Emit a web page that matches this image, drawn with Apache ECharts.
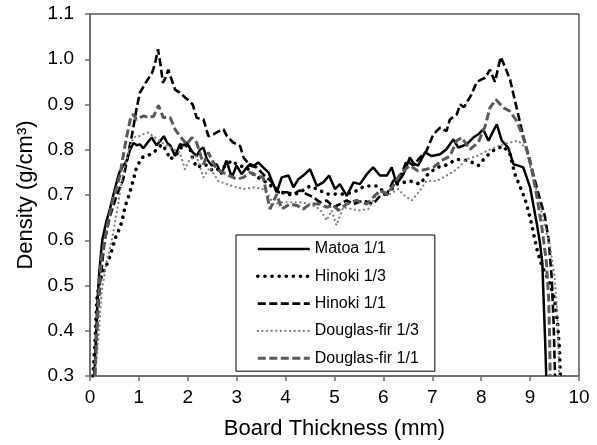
<!DOCTYPE html>
<html>
<head>
<meta charset="utf-8">
<script src="https://cdn.jsdelivr.net/npm/echarts@6/dist/echarts.min.js"></script>
<style>
  html, body { margin: 0; padding: 0; background: #fff; }
  #chart { width: 597px; height: 445px; }
</style>
</head>
<body>
<div id="chart"></div>
<script>
// density profiles, [thickness mm, density g/cm3]
const matoa11 = [
  [0.09,0.30],[0.12,0.38],[0.15,0.46],[0.19,0.53],[0.25,0.60],[0.33,0.64],[0.41,0.67],[0.5,0.71],
  [0.6,0.75],[0.68,0.765],[0.75,0.775],[0.82,0.80],[0.89,0.815],[0.96,0.81],[1.02,0.812],[1.09,0.803],
  [1.17,0.815],[1.26,0.827],[1.36,0.81],[1.44,0.82],[1.51,0.83],[1.58,0.815],[1.64,0.81],[1.74,0.786],
  [1.84,0.812],[1.91,0.81],[1.98,0.816],[2.08,0.797],[2.18,0.786],[2.25,0.80],[2.32,0.805],[2.39,0.779],
  [2.49,0.765],[2.59,0.768],[2.69,0.746],[2.79,0.776],[2.9,0.739],[3.0,0.765],[3.1,0.746],[3.2,0.76],
  [3.27,0.768],[3.36,0.765],[3.44,0.772],[3.54,0.761],[3.65,0.75],[3.72,0.731],[3.82,0.706],[3.92,0.739],
  [4.06,0.743],[4.16,0.717],[4.26,0.735],[4.36,0.743],[4.5,0.757],[4.64,0.72],[4.77,0.728],[4.89,0.743],
  [5.01,0.713],[5.11,0.724],[5.25,0.698],[5.39,0.728],[5.52,0.724],[5.66,0.746],[5.79,0.761],[5.93,0.743],
  [6.07,0.743],[6.17,0.761],[6.27,0.724],[6.41,0.746],[6.54,0.783],[6.62,0.77],[6.71,0.765],[6.85,0.794],
  [6.99,0.786],[7.16,0.79],[7.29,0.801],[7.43,0.823],[7.53,0.805],[7.7,0.812],[7.84,0.827],[7.95,0.835],
  [8.04,0.845],[8.15,0.82],[8.24,0.84],[8.32,0.856],[8.42,0.82],[8.55,0.805],[8.66,0.768],[8.76,0.765],
  [8.86,0.761],[9.0,0.717],[9.08,0.67],[9.14,0.635],[9.2,0.595],[9.25,0.55],[9.28,0.46],[9.31,0.37],[9.33,0.30]
];

const hinoki13 = [
  [0.06,0.30],[0.1,0.37],[0.14,0.47],[0.2,0.51],[0.27,0.53],[0.34,0.545],[0.41,0.566],[0.47,0.586],
  [0.51,0.603],[0.58,0.62],[0.65,0.64],[0.72,0.675],[0.8,0.70],[0.89,0.735],[0.95,0.76],[1.06,0.783],
  [1.19,0.787],[1.33,0.797],[1.47,0.812],[1.55,0.80],[1.64,0.779],[1.77,0.79],[1.91,0.812],[2.04,0.805],
  [2.1,0.78],[2.18,0.761],[2.35,0.768],[2.52,0.753],[2.73,0.761],[2.9,0.776],[3.03,0.765],[3.2,0.761],
  [3.37,0.743],[3.5,0.735],[3.61,0.728],[3.82,0.71],[4.02,0.702],[4.15,0.70],[4.29,0.706],[4.5,0.72],
  [4.7,0.71],[4.84,0.702],[5.01,0.702],[5.18,0.702],[5.39,0.706],[5.62,0.72],[5.86,0.72],[6.07,0.702],
  [6.27,0.724],[6.54,0.731],[6.75,0.724],[6.88,0.743],[7.09,0.761],[7.26,0.765],[7.5,0.779],[7.74,0.776],
  [7.94,0.765],[8.11,0.786],[8.28,0.801],[8.45,0.808],[8.59,0.79],[8.69,0.746],[8.79,0.72],[8.9,0.69],
  [9.0,0.65],[9.07,0.615],[9.14,0.58],[9.22,0.55],[9.32,0.525],[9.42,0.50],[9.5,0.47],[9.56,0.42],
  [9.6,0.36],[9.62,0.30]
];

const hinoki11 = [
  [0.1,0.30],[0.14,0.40],[0.2,0.50],[0.3,0.60],[0.41,0.654],[0.55,0.70],[0.68,0.735],[0.78,0.79],
  [0.88,0.845],[0.95,0.89],[1.02,0.926],[1.15,0.95],[1.27,0.97],[1.33,0.99],[1.39,1.022],[1.44,0.99],
  [1.49,0.948],[1.55,0.96],[1.6,0.977],[1.67,0.955],[1.74,0.933],[1.85,0.925],[1.95,0.915],[2.04,0.907],
  [2.1,0.90],[2.18,0.871],[2.25,0.868],[2.32,0.867],[2.42,0.83],[2.52,0.834],[2.62,0.84],[2.73,0.845],
  [2.8,0.83],[2.93,0.816],[3.07,0.808],[3.14,0.783],[3.27,0.765],[3.41,0.761],[3.54,0.746],[3.72,0.728],
  [3.85,0.706],[4.02,0.706],[4.16,0.702],[4.29,0.71],[4.43,0.702],[4.57,0.695],[4.7,0.684],[4.84,0.688],
  [4.98,0.673],[5.11,0.68],[5.25,0.688],[5.39,0.68],[5.59,0.688],[5.79,0.68],[5.93,0.698],[6.07,0.702],
  [6.2,0.731],[6.34,0.739],[6.48,0.776],[6.61,0.765],[6.75,0.783],[6.88,0.797],[7.02,0.834],[7.16,0.849],
  [7.29,0.841],[7.36,0.867],[7.5,0.878],[7.57,0.9],[7.65,0.894],[7.8,0.922],[7.91,0.95],[8.0,0.955],
  [8.08,0.959],[8.18,0.977],[8.28,0.95],[8.4,1.005],[8.5,0.98],[8.59,0.955],[8.73,0.89],[8.86,0.83],
  [9.0,0.772],[9.16,0.707],[9.3,0.654],[9.38,0.60],[9.44,0.52],[9.48,0.42],[9.51,0.30]
];

const douglas13 = [
  [0.1,0.30],[0.17,0.38],[0.24,0.487],[0.34,0.552],[0.44,0.597],[0.55,0.663],[0.68,0.75],[0.82,0.808],
  [0.89,0.827],[0.96,0.83],[1.02,0.83],[1.1,0.835],[1.19,0.838],[1.33,0.827],[1.47,0.816],[1.64,0.805],
  [1.84,0.794],[1.94,0.757],[2.04,0.779],[2.18,0.786],[2.32,0.739],[2.45,0.761],[2.62,0.731],[2.79,0.724],
  [3.0,0.717],[3.14,0.713],[3.34,0.717],[3.54,0.713],[3.65,0.70],[3.75,0.68],[3.92,0.684],[4.09,0.684],
  [4.29,0.684],[4.5,0.68],[4.7,0.669],[4.84,0.644],[4.94,0.666],[5.04,0.633],[5.18,0.673],[5.35,0.669],
  [5.52,0.666],[5.69,0.669],[5.86,0.702],[6.0,0.71],[6.13,0.702],[6.3,0.713],[6.44,0.698],[6.58,0.688],
  [6.75,0.71],[6.88,0.731],[7.09,0.731],[7.29,0.743],[7.5,0.757],[7.7,0.779],[7.91,0.786],[8.11,0.797],
  [8.28,0.805],[8.45,0.812],[8.59,0.816],[8.76,0.82],[8.9,0.805],[9.03,0.753],[9.13,0.71],[9.24,0.66],
  [9.33,0.62],[9.41,0.585],[9.5,0.52],[9.55,0.45],[9.58,0.37],[9.59,0.30]
];

const douglas11 = [
  [0.1,0.30],[0.16,0.45],[0.22,0.55],[0.35,0.63],[0.47,0.69],[0.61,0.742],[0.7,0.80],[0.78,0.845],
  [0.84,0.875],[0.89,0.878],[0.95,0.867],[1.02,0.871],[1.1,0.875],[1.19,0.871],[1.3,0.874],[1.4,0.898],
  [1.5,0.871],[1.64,0.871],[1.74,0.845],[1.84,0.83],[1.98,0.812],[2.08,0.827],[2.18,0.816],[2.32,0.768],
  [2.42,0.794],[2.59,0.757],[2.79,0.746],[3.0,0.735],[3.14,0.739],[3.27,0.75],[3.41,0.743],[3.54,0.739],
  [3.62,0.70],[3.68,0.669],[3.82,0.702],[3.92,0.669],[4.09,0.68],[4.23,0.677],[4.36,0.669],[4.5,0.68],
  [4.7,0.68],[4.84,0.673],[4.98,0.677],[5.08,0.666],[5.25,0.68],[5.45,0.688],[5.66,0.68],[5.79,0.695],
  [5.93,0.71],[6.07,0.702],[6.2,0.72],[6.34,0.746],[6.54,0.765],[6.71,0.753],[6.88,0.757],[7.02,0.761],
  [7.19,0.776],[7.36,0.786],[7.5,0.82],[7.6,0.827],[7.77,0.801],[7.94,0.816],[8.08,0.852],[8.18,0.893],
  [8.3,0.911],[8.45,0.893],[8.59,0.885],[8.73,0.863],[8.86,0.827],[9.0,0.776],[9.13,0.702],[9.24,0.629],
  [9.33,0.555],[9.38,0.47],[9.4,0.38],[9.41,0.30]
];

const seriesNames = ['Matoa 1/1', 'Hinoki 1/3', 'Hinoki 1/1', 'Douglas-fir 1/3', 'Douglas-fir 1/1'];
const seriesData = [matoa11, hinoki13, hinoki11, douglas13, douglas11];
const lineStyles = [
  { color: '#000', width: 2.5, type: 'solid' },
  { color: '#000', width: 3.6, type: [0.1, 7], cap: 'round' },
  { color: '#000', width: 2.6, type: [8, 3.5] },
  { color: '#7f7f7f', width: 2.2, type: [0.1, 4.5], cap: 'round' },
  { color: '#595959', width: 3, type: [8, 3.5] }
];

const FONT = 'Liberation Sans, Arial, sans-serif';
const AXIS_GREY = '#6b6b6b';

const chart = echarts.init(document.getElementById('chart'), null, { renderer: 'canvas' });

chart.setOption({
  animation: false,
  backgroundColor: '#fff',
  grid: {
    left: 90, right: 18, top: 14, bottom: 67,
    show: true, borderColor: '#000', borderWidth: 1
  },
  legend: {
    orient: 'vertical',
    left: 236, top: 235,
    padding: [6, 16, 5, 20],
    itemWidth: 52, itemHeight: 14, itemGap: 11.3,
    borderColor: '#000', borderWidth: 1,
    backgroundColor: '#fff',
    itemStyle: { opacity: 0, borderWidth: 0 },
    textStyle: { fontFamily: FONT, fontSize: 16, color: '#000' },
    data: seriesNames.map((name, i) => ({ name, lineStyle: { ...lineStyles[i] } }))
  },
  xAxis: {
    type: 'value', min: 0, max: 10, interval: 1,
    name: 'Board Thickness (mm)', nameLocation: 'middle', nameGap: 42,
    nameTextStyle: { fontFamily: FONT, fontSize: 22, color: '#000' },
    axisLine: { show: true, lineStyle: { color: AXIS_GREY, width: 1.5 } },
    axisTick: { show: true, length: 5, lineStyle: { color: AXIS_GREY, width: 1.5 } },
    axisLabel: { fontFamily: FONT, fontSize: 19, color: '#000', margin: 12 },
    splitLine: { show: false }
  },
  yAxis: {
    type: 'value', min: 0.3, max: 1.1, interval: 0.1,
    name: 'Density (g/cm³)', nameLocation: 'middle', nameGap: 52,
    nameTextStyle: { fontFamily: FONT, fontSize: 22, color: '#000' },
    axisLine: { show: true, lineStyle: { color: AXIS_GREY, width: 1.5 } },
    axisTick: { show: true, length: 5, lineStyle: { color: AXIS_GREY, width: 1.5 } },
    axisLabel: {
      fontFamily: FONT, fontSize: 19, color: '#000', margin: 16,
      formatter: (v) => v.toFixed(1)
    },
    splitLine: { show: false }
  },
  series: seriesNames.map((name, i) => ({
    name,
    type: 'line',
    data: seriesData[i],
    symbol: 'none',
    smooth: false,
    clip: true,
    lineStyle: lineStyles[i],
    itemStyle: { color: lineStyles[i].color }
  }))
});
</script>
</body>
</html>
